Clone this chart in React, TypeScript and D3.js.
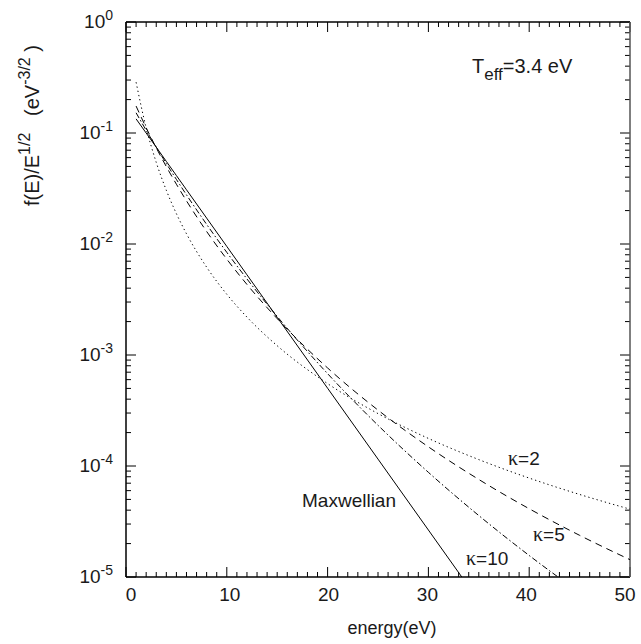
import React from 'react';
import * as d3 from 'd3';

const energy = [1, 2, 3, 4, 5, 6, 8, 10, 12, 15, 20, 25, 30, 35, 40, 45, 50];
const maxwellian = [0.134, 0.09995, 0.07449, 0.05551, 0.04137, 0.03082, 0.017117, 0.009509, 0.005278, 0.002185, 5.02e-4, 1.154e-4, 2.65e-5, 6.09e-6];
const kappa2 = [0.2868, 0.1114, 0.05437, 0.03048, 0.01877, 0.01236, 0.006185, 0.003524, 0.002195, 0.001212, 5.524e-4, 2.966e-4, 1.772e-4, 1.142e-4, 7.785e-5, 5.542e-5, 4.085e-5];
const kappa5 = [0.1748, 0.11165, 0.07359, 0.04984, 0.03456, 0.02448, 0.012969, 0.0073, 0.004321, 0.002126, 7.642e-4, 3.189e-4, 1.4877e-4, 7.564e-5, 4.12e-5, 2.374e-5, 1.432e-5];
const kappa10 = [0.15197, 0.10583, 0.07456, 0.05309, 0.03818, 0.02774, 0.015025, 0.008407, 0.004844, 0.002224, 6.793e-4, 2.327e-4, 8.769e-5, 3.578e-5, 1.562e-5, 7.23e-6];
const xTickLabels = [0, 10, 20, 30, 40, 50];
const yDecades = [0, -1, -2, -3, -4, -5];

const W = 641, H = 644;
const L = 126, R = 630, T = 22, B = 577;
const FONT = "'Liberation Sans', Arial, Helvetica, sans-serif";
const SERIF = "'Liberation Serif', 'DejaVu Serif', serif";

export default function App() {
  const x = d3.scaleLinear().domain([0, 50]).range([L, R]);
  const xLab = d3.scaleLinear().domain([0, 50]).range([131, 625]);
  const y = d3.scaleLog().domain([1e-5, 1]).range([B, T]);
  const line = d3
    .line<[number, number]>()
    .x((d) => x(d[0]))
    .y((d) => y(d[1]))
    .curve(d3.curveMonotoneX);
  const pts = (vals: number[]) => vals.map((v, i) => [energy[i], v] as [number, number]);

  const minorX = d3.range(0, 51, 1);
  const minorY: number[] = [];
  for (let e = -5; e < 0; e++) for (let m = 2; m <= 9; m++) minorY.push(m * Math.pow(10, e));

  const tickStroke = '#000';
  const txt = '#1a1a1a';
  return (
    <svg width={W} height={H} style={{ position: 'absolute', left: 0, top: 0, background: '#fff' }} fontFamily={FONT}>
      <rect x={0} y={0} width={W} height={H} fill="#fff" />
      <defs>
        <clipPath id="plot">
          <rect x={L} y={T} width={R - L} height={B - T} />
        </clipPath>
      </defs>
      {minorX.map((v) => {
        const major = v % 10 === 0;
        const len = major ? 10 : 5;
        return (
          <g key={'xt' + v} stroke={tickStroke} strokeWidth={1}>
            <line x1={x(v)} x2={x(v)} y1={B} y2={B - len} />
            <line x1={x(v)} x2={x(v)} y1={T} y2={T + len} />
          </g>
        );
      })}
      {yDecades.map((e) => (
        <g key={'yt' + e} stroke={tickStroke} strokeWidth={1}>
          <line x1={L} x2={L + 10} y1={y(Math.pow(10, e))} y2={y(Math.pow(10, e))} />
          <line x1={R} x2={R - 10} y1={y(Math.pow(10, e))} y2={y(Math.pow(10, e))} />
        </g>
      ))}
      {minorY.map((v, i) => (
        <g key={'ym' + i} stroke={tickStroke} strokeWidth={1}>
          <line x1={L} x2={L + 5} y1={y(v)} y2={y(v)} />
          <line x1={R} x2={R - 5} y1={y(v)} y2={y(v)} />
        </g>
      ))}
      <line x1={L} x2={R} y1={T} y2={T} stroke="#000" strokeWidth={1.5} />
      <line x1={L} x2={R} y1={B} y2={B} stroke="#000" strokeWidth={1.5} />
      <line x1={L} x2={L} y1={T} y2={B} stroke="#000" strokeWidth={1.5} />
      <line x1={R} x2={R} y1={T} y2={B} stroke="#555" strokeWidth={1.5} />

      <g clipPath="url(#plot)" fill="none" stroke="#000" strokeWidth={1}>
        <path d={line(pts(maxwellian)) || ''} />
        <path d={line(pts(kappa2)) || ''} strokeDasharray="1.3 3" />
        <path d={line(pts(kappa5)) || ''} strokeDasharray="7 5" />
        <path d={line(pts(kappa10)) || ''} strokeDasharray="6 2.5 1.5 2.5" />
      </g>

      {xTickLabels.map((v) => (
        <text key={'xl' + v} x={xLab(v)} y={601} textAnchor="middle" fontSize={19} fill={txt}>
          {v}
        </text>
      ))}
      {yDecades.map((e) => (
        <text key={'yl' + e} x={113} y={y(Math.pow(10, e)) + 6} textAnchor="end" fontSize={19} fill={txt}>
          10
          <tspan dy={-8} fontSize={14}>
            {e === 0 ? '0' : '-' + -e}
          </tspan>
        </text>
      ))}

      <text x={392} y={634} textAnchor="middle" fontSize={18} fill={txt}>
        energy(eV)
      </text>
      <text transform="translate(39,206) rotate(-90)" fontSize={20} fill={txt}>
        f(E)/E
        <tspan dy={-9} fontSize={16}>1/2</tspan>
        <tspan dy={9}>{'\u00a0\u00a0\u00a0(eV'}</tspan>
        <tspan dy={-9} fontSize={16}>-3/2</tspan>
        <tspan dy={9}>{'\u00a0)'}</tspan>
      </text>

      <text x={472} y={73} fontSize={20} fill={txt}>
        T<tspan dy={7} fontSize={17}>eff</tspan>
        <tspan dy={-7}>=3.4 eV</tspan>
      </text>
      <text x={396} y={507} textAnchor="end" fontSize={19} fill={txt}>Maxwellian</text>
      <text x={508} y={465} fontSize={19} fill={txt}>
        <tspan fontFamily={SERIF} fontSize={20}>κ</tspan>=2
      </text>
      <text x={533} y={541} fontSize={19} fill={txt}>
        <tspan fontFamily={SERIF} fontSize={20}>κ</tspan>=5
      </text>
      <text x={466} y={565} fontSize={19} fill={txt}>
        <tspan fontFamily={SERIF} fontSize={20}>κ</tspan>=10
      </text>
    </svg>
  );
}
